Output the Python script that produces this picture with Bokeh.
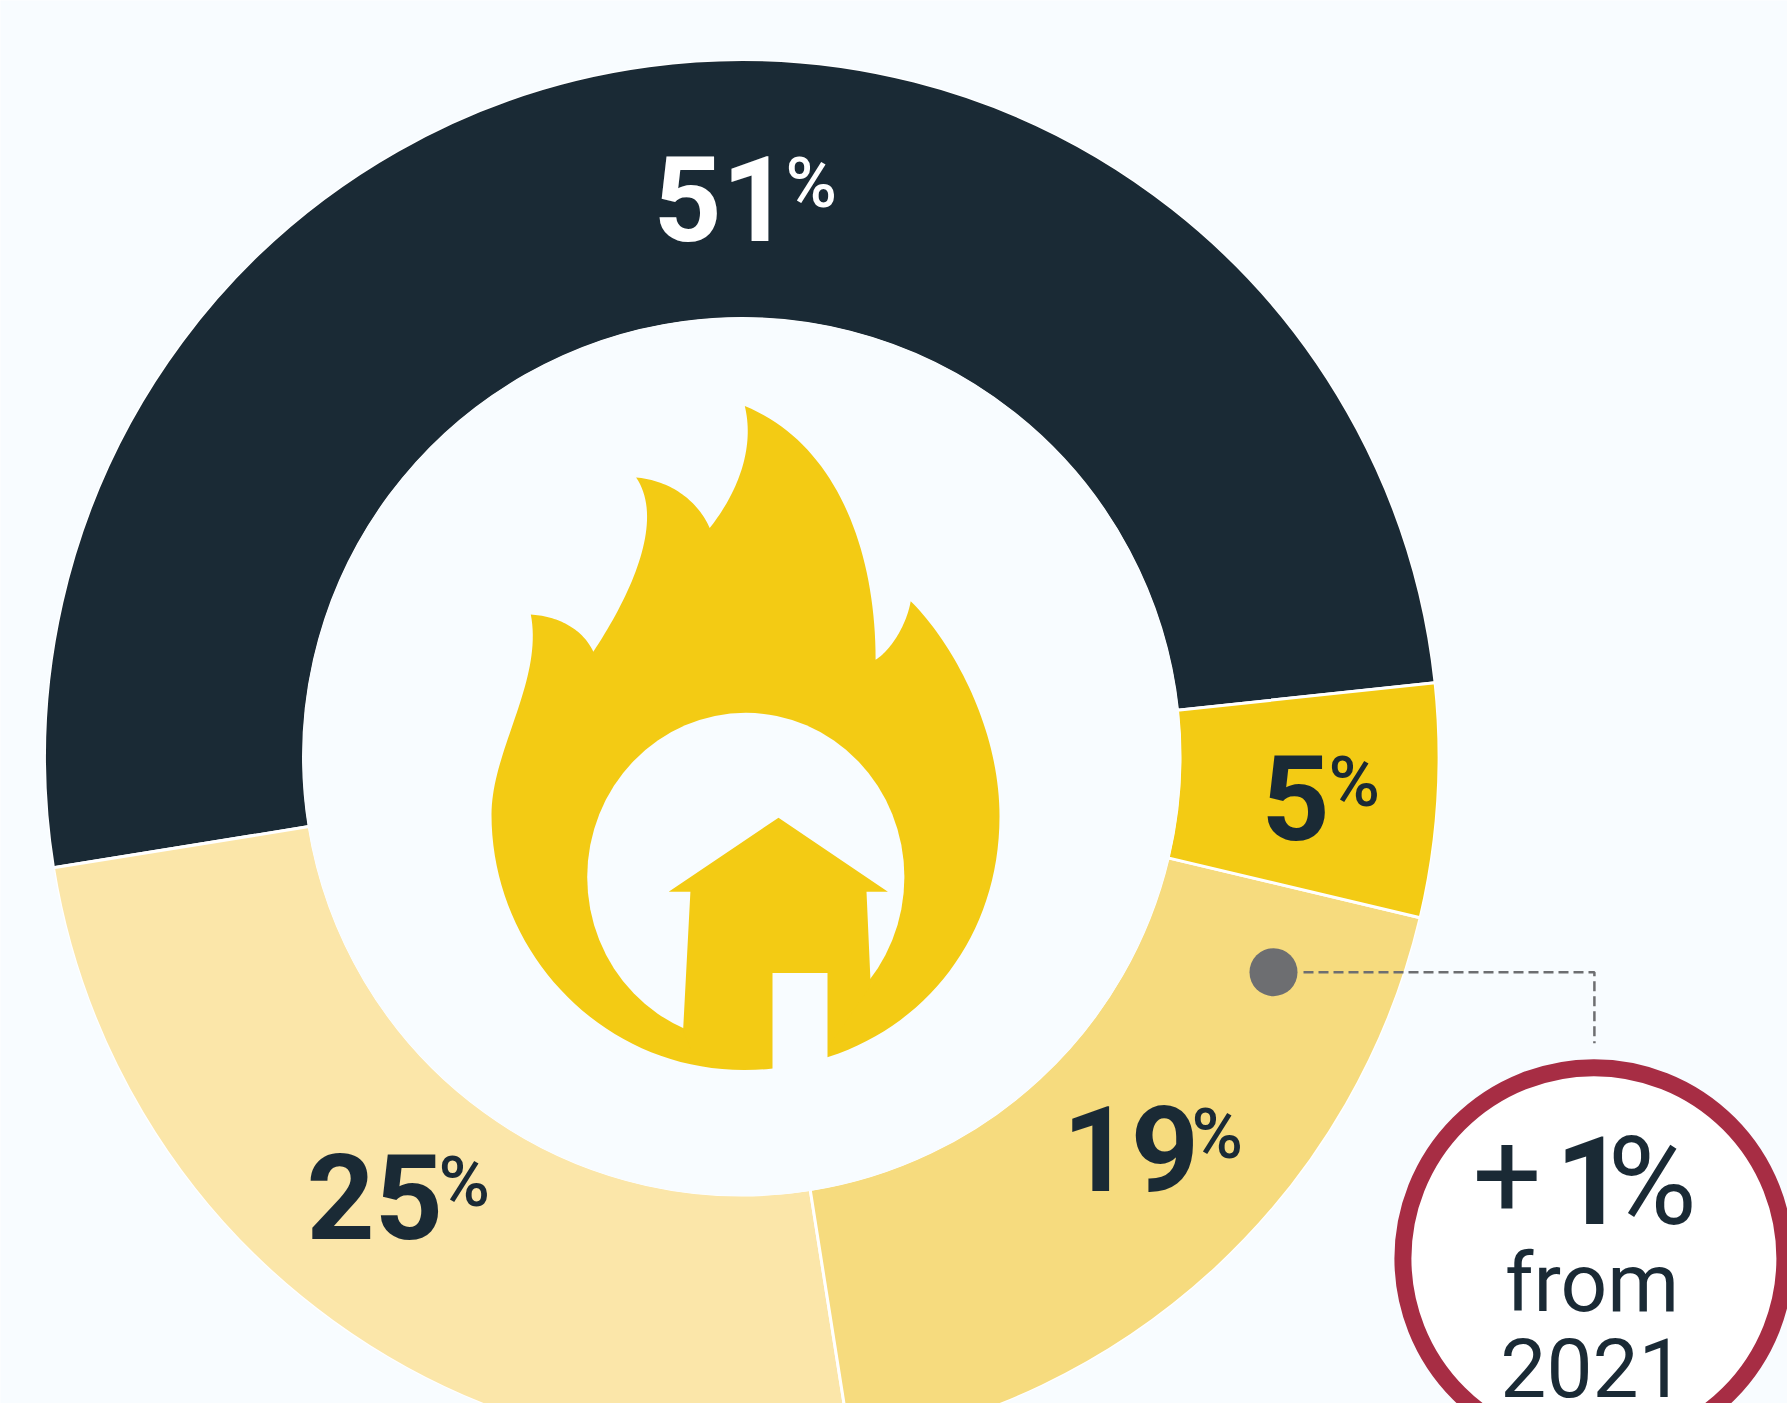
import numpy as np
from bokeh.plotting import figure
from bokeh.models import Range1d, ColumnDataSource
from bokeh.core.properties import value
from bokeh.embed import file_html
from bokeh.resources import INLINE

# ---- data ----
segments = ["Dark", "Lightest", "Mid", "Yellow"]
shares = [50.85, 24.95, 18.8, 5.4]      # shares as drawn
label_values = ["51", "25", "19", "5"]
callout_big = ["+", "1", "%"]
callout_words = ["from", "2021"]

# ---- style & layout (reference pixels) ----
BG = "#F8FCFF"
INK = "#1A2A35"
colors = [INK, "#FBE6A9", "#F6DB7E", "#F3CB14"]
label_colors = ["#FFFFFF", INK, INK, INK]
START_DEG = 6.1
CX, CY, R_OUT, R_IN = 741.3, 756.3, 697.25, 438.2
label_x = [653, 306, 1062, 1261]
label_y = [240.5, 1239, 1191, 840]
pct_x = [785, 438, 1191, 1328]
pct_y = [207.5, 1207, 1159, 807]


def up(ys, size, k=0.36):
    """Raise baselines: Bokeh's text box sits a fraction of the size under the anchor."""
    return [y - k * size for y in ys]


p = figure(width=1787, height=1403, x_range=Range1d(0, 1787), y_range=Range1d(1403, 0),
           output_backend="svg", toolbar_location=None, min_border=0,
           background_fill_color=BG, border_fill_color=BG, outline_line_color=None)
p.axis.visible = False
p.grid.visible = False

# ---- donut ----
edges = np.radians(START_DEG + np.cumsum([0] + shares) * 3.6)
src = ColumnDataSource(dict(x=[CX] * 4, y=[CY] * 4, start=edges[:-1], end=edges[1:], color=colors))
p.annular_wedge("x", "y", inner_radius=R_IN, outer_radius=R_OUT, start_angle="start", end_angle="end",
                fill_color="color", line_color="#FFFFFF", line_width=3, source=src)
p.circle([CX], [CY], radius=R_IN - 0.5, fill_color=None, line_color=BG, line_width=3)
p.circle([CX], [CY], radius=R_OUT + 1.25, fill_color=None, line_color=BG, line_width=3)


# ---- flame icon ----
def bez(p0, c0, c1, p1, n=40):
    t = np.linspace(0, 1, n)[:, None]
    a, b, c, d = map(lambda v: np.array(v, float), (p0, c0, c1, p1))
    return (1 - t) ** 3 * a + 3 * (1 - t) ** 2 * t * b + 3 * (1 - t) * t ** 2 * c + t ** 3 * d


flame_parts = [
    ((744.3, 405.6), (830, 440), (875, 540), (875.1, 659.2)),
    ((875.1, 659.2), (890, 650), (906, 625), (910.2, 600.7)),
    ((910.2, 600.7), (950, 640), (999, 725), (999, 816)),
    ((999, 816), (999, 960), (890, 1069.5), (743.6, 1069.5)),
    ((743.6, 1069.5), (600, 1069.5), (491, 950), (491, 814)),
    ((491, 814), (491, 750), (543, 680), (530.3, 614)),
    ((530.3, 614), (560, 616), (583, 630), (592.8, 651.2)),
    ((592.8, 651.2), (630, 595), (665, 520), (635.6, 477)),
    ((635.6, 477), (670, 480), (697, 500), (709.2, 527.5)),
    ((709.2, 527.5), (735, 495), (755, 450), (744.3, 405.6)),
]
flame = np.vstack([bez(*part) for part in flame_parts])
FLAME = "#F3CB14"
p.patch(flame[:, 0], flame[:, 1], fill_color=FLAME, line_color=None)
p.ellipse([745.3], [876.6], width=317.2, height=328.6, fill_color=BG, line_color=None)
house_x = [778, 887.4, 866, 870.2, 827, 772, 690, 682.6, 689.9, 668.2]
house_y = [817.2, 891.3, 891.3, 985, 1048, 1048, 1048, 1030, 891.3, 891.3]
p.patch(house_x, house_y, fill_color=FLAME, line_color=None)
p.patch([772, 827, 827, 772], [972.6, 972.6, 1080, 1080], fill_color=BG, line_color=None)

# ---- labels ----
p.text(label_x, up(label_y, 119), text=label_values, text_color=label_colors,
       text_font=value("Roboto"), text_font_style="bold", text_font_size="119px",
       text_baseline="alphabetic", text_align="left")
p.text(pct_x, up(pct_y, 70), text=["%"] * 4, text_color=label_colors,
       text_font=value("Roboto Medium"), text_font_size="70px",
       text_baseline="alphabetic", text_align="left")

# ---- callout ----
p.circle([1273], [971.7], radius=24, fill_color="#6D6E71", line_color=None)
p.line([1303, 1593.9, 1593.9], [971.7, 971.7, 1042.7], line_color="#6D6E71", line_width=2.5, line_dash="10 5")
p.circle([1593.4], [1258], radius=191, fill_color="#FFFFFF", line_color="#A72D44", line_width=17)
p.text([1472], up([1216], 122), text=[callout_big[0]], text_color=INK, text_font=value("Roboto"),
       text_font_size="122px", text_baseline="alphabetic", text_align="left")
p.text([1555], up([1223], 122), text=[callout_big[1]], text_color=INK, text_font=value("Roboto"),
       text_font_style="bold", text_font_size="122px", text_baseline="alphabetic", text_align="left")
p.text([1607], up([1226], 122), text=[callout_big[2]], text_color=INK, text_font=value("Roboto"),
       text_font_size="122px", text_baseline="alphabetic", text_align="left")
p.text([1591.5, 1592], up([1312, 1396.5], 82), text=callout_words, text_color=INK, text_font=value("Roboto"),
       text_font_size="82px", text_baseline="alphabetic", text_align="center")

open("out.html", "w").write(file_html(p, INLINE))
